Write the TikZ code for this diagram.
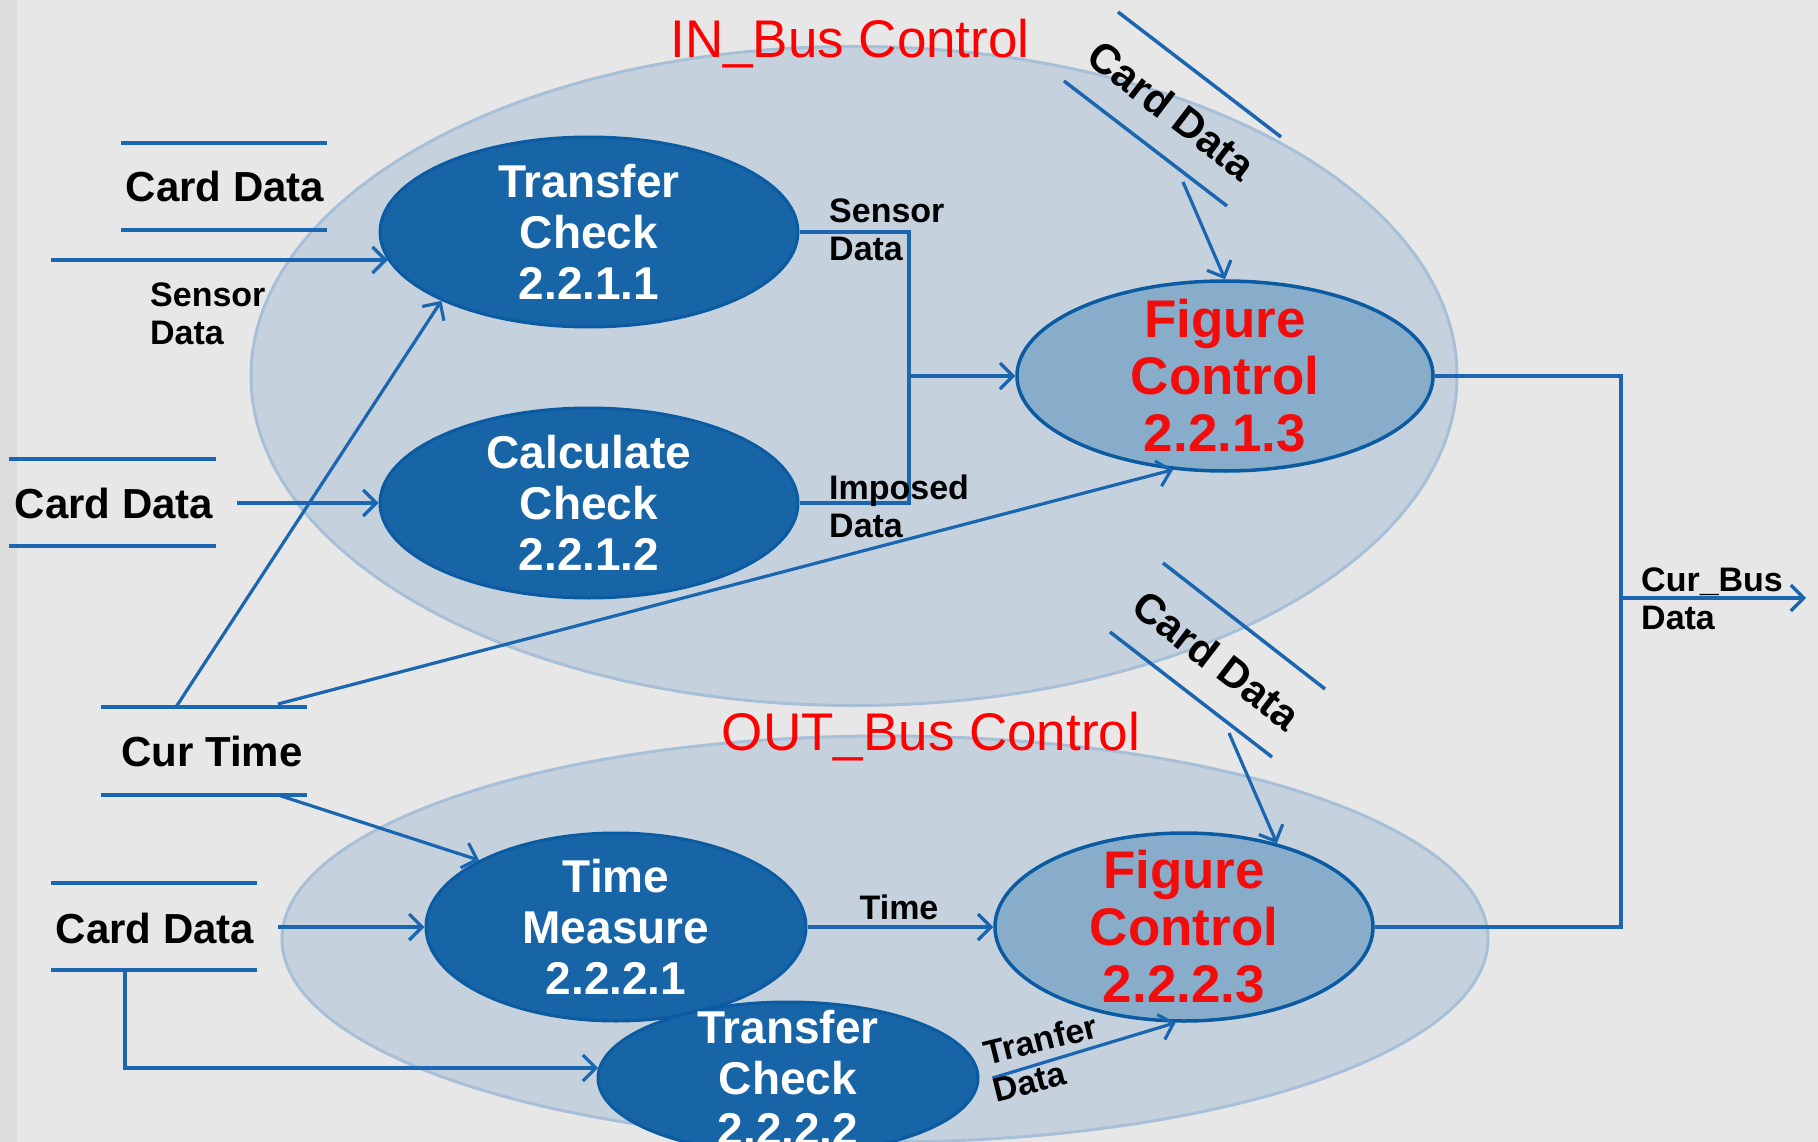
\documentclass[tikz,border=0pt]{standalone}
\usepackage{fontspec}
\setmainfont{Liberation Sans}
\usetikzlibrary{shapes.geometric,arrows.meta}
\definecolor{bgc}{HTML}{E7E7E7}
\definecolor{bgstrip}{HTML}{DCDCDC}
\definecolor{bigfill}{HTML}{C5D2DE}
\definecolor{bigedge}{HTML}{A7C0D7}
\definecolor{procfill}{HTML}{1764A6}
\definecolor{procedge}{HTML}{0B5BA2}
\definecolor{figfill}{HTML}{88ADCB}
\definecolor{flow}{HTML}{1B66B1}
\definecolor{titlered}{HTML}{FF0000}
\definecolor{figred}{HTML}{F20D0D}
\begin{document}
\begin{tikzpicture}[x=1pt,y=-1pt,
  proc/.style={ellipse, draw=procedge, line width=3pt, fill=procfill, inner sep=-35pt, text=white, align=center, font=\fontsize{46}{51}\selectfont\bfseries},
  figc/.style={ellipse, draw=procedge, line width=3.5pt, fill=figfill, inner sep=-40pt, text=figred, align=center, font=\fontsize{53}{57}\selectfont\bfseries},
  grp/.style={ellipse, draw=bigedge, line width=3pt, fill=bigfill, inner sep=0pt},
  storelbl/.style={font=\fontsize{42}{46}\selectfont\bfseries, inner sep=0pt},
  flowlbl/.style={font=\fontsize{34}{38}\selectfont\bfseries, align=left, inner sep=0pt},
  storeline/.style={draw=flow, line width=3.5pt},
  flowline/.style={draw=flow, line width=3.2pt},
  arr/.style={flowline, -{Straight Barb[length=13pt,width=26pt,line width=3.2pt]}},
  grouptitle/.style={text=titlered, font=\fontsize{53}{58}\selectfont, inner sep=0pt}
]
\useasboundingbox (0,0) rectangle (1818,1142);
\clip (0,0) rectangle (1818,1142);
\fill[bgc] (0,0) rectangle (1818,1142);
\fill[bgstrip] (0,0) rectangle (17,1142);

% group ellipses
\node[grp, minimum width=1206pt, minimum height=659pt] (inbus) at (854,376) {};
\node[grp, minimum width=1206pt, minimum height=406pt] (outbus) at (885,939) {};
\node[grouptitle] (intitle) at (850,44) {IN\_Bus Control};
\node[grouptitle] (outtitle) at (931,737) {OUT\_Bus Control};

% processes
\node[proc, minimum width=418pt, minimum height=190pt] (tc1) at (589,232) {Transfer\\Check\\2.2.1.1};
\node[proc, minimum width=418pt, minimum height=190pt] (cc2) at (589,503) {Calculate\\Check\\2.2.1.2};
\node[figc, minimum width=416pt, minimum height=190pt] (fc1) at (1225,376) {Figure\\Control\\2.2.1.3};
\node[proc, minimum width=380pt, minimum height=188pt] (tm) at (616,927) {Time\\Measure\\2.2.2.1};
\node[proc, minimum width=380pt, minimum height=152pt] (tc2) at (788,1078) {Transfer\\Check\\2.2.2.2};
\node[figc, minimum width=378pt, minimum height=188pt] (fc2) at (1184,927) {Figure\\Control\\2.2.2.3};

% data stores
\draw[storeline] (121,143) -- (327,143) (121,230) -- (327,230);
\node[storelbl] (cdA) at (225,186) {Card Data};
\draw[storeline] (9,459) -- (216,459) (9,546) -- (216,546);
\node[storelbl] (cdB) at (114,503) {Card Data};
\draw[storeline] (101,707) -- (307,707) (101,795) -- (307,795);
\node[storelbl] (ct) at (212,751) {Cur Time};
\draw[storeline] (51,883) -- (257,883) (51,970) -- (257,970);
\node[storelbl] (cdC) at (155,928) {Card Data};
\draw[storeline] (1118,12) -- (1281,137) (1064,81) -- (1227,206);
\node[storelbl, rotate=-37.5] (cdD) at (1172,110) {Card Data};
\draw[storeline] (1163,563) -- (1325,689) (1110,632) -- (1272,757);
\node[storelbl, rotate=-37.5] (cdE) at (1217,660) {Card Data};

% coordinates for free ends
\coordinate (sIn) at (51,260);
\coordinate (cdBout) at (237,503);
\coordinate (ctTop1) at (176,707);
\coordinate (ctTop2) at (278,704);
\coordinate (ctBot) at (278,795);
\coordinate (cdCout) at (278,927);
\coordinate (cdCdown) at (125,970);
\coordinate (cdDout) at (1183,182);
\coordinate (cdEout) at (1229,733);
\coordinate (jn) at (909,376);
\coordinate (bj) at (1621,598);
\coordinate (busOut) at (1806,598);

% connectors
\draw[arr] (sIn) -- (sIn -| tc1.188);
\draw[arr] (cdBout) -- (cc2.west);
\draw[arr] (ctTop1) -- (tc1.205);
\draw[arr] (ctTop2) -- (fc1.241);
\draw[flowline] (tc1.east) -| (jn) |- (cc2.east);
\draw[arr] (jn) -- (fc1.west);
\draw[arr] (cdDout) -- (fc1.north);
\draw[flowline] (fc1.east) -| (bj) |- (fc2.east);
\draw[arr] (bj) -- (busOut);
\draw[arr] (ctBot) -- (tm.154);
\draw[arr] (cdCout) -- (tm.west);
\draw[arr] (cdCdown) |- (tc2.177);
\draw[arr] (tm.east) -- (fc2.west);
\draw[arr] ([xshift=13pt]tc2.east) -- (fc2.265);
\draw[arr] (cdEout) -- (fc2.42);

% flow labels
\node[flowlbl, anchor=west] (lSens1) at (150,314) {Sensor\\Data};
\node[flowlbl, anchor=west] (lSens2) at (829,230) {Sensor\\Data};
\node[flowlbl, anchor=west] (lImp) at (829,506) {Imposed\\Data};
\node[flowlbl, anchor=west] (lBus) at (1641,599) {Cur\_Bus\\Data};
\node[flowlbl] (lTime) at (899,907) {Time};
\node[flowlbl, rotate=14] (lTran) at (1045,1058) {Tranfer\\Data};
\end{tikzpicture}
\end{document}
